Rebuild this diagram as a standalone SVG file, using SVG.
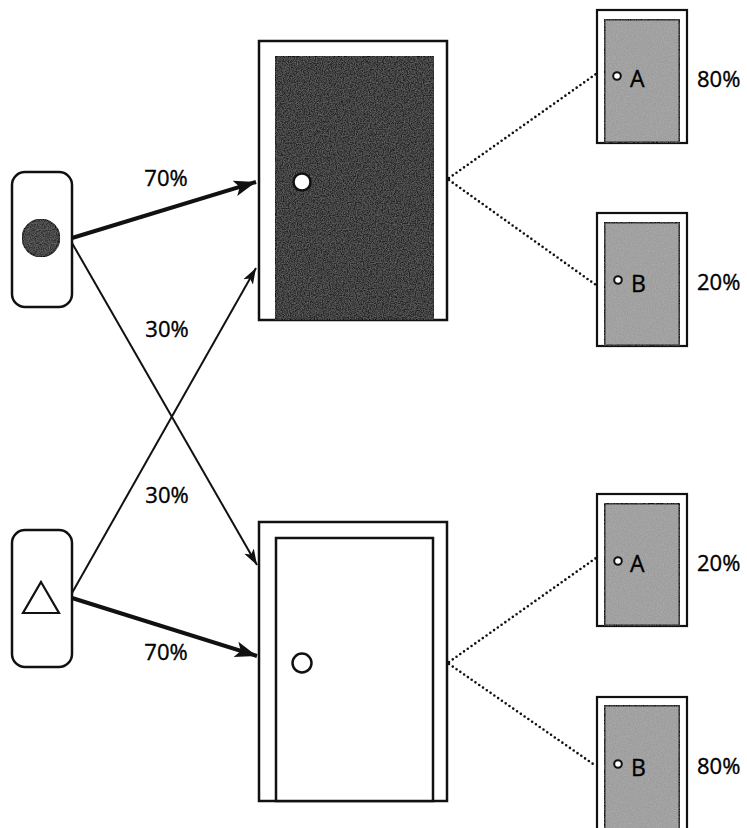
<svg xmlns="http://www.w3.org/2000/svg" width="747" height="828" viewBox="0 0 747 828">
  <style>
    .frame { fill: #ffffff; stroke: #111111; stroke-width: 2.5; }
    .pill { fill: #ffffff; stroke: #111111; stroke-width: 2.5; }
    .dark { fill: #262626; stroke: #111111; stroke-width: 2.5; }
    .light { fill: #ffffff; stroke: #111111; stroke-width: 2.5; }
    .grey { fill: #9c9c9c; stroke: #111111; stroke-width: 3; }
    .sframe { fill: #ffffff; stroke: #111111; stroke-width: 2.2; }
    .knob { stroke: #111111; stroke-width: 2.5; fill: #ffffff; }
    .sknob { stroke: #111111; stroke-width: 2; fill: #ffffff; }
    .thick { stroke: #111111; stroke-width: 4; fill: none; }
    .thin { stroke: #111111; stroke-width: 2; fill: none; }
    .dots { stroke: #111111; stroke-width: 2.6; stroke-linecap: round; stroke-dasharray: 0 4.6; fill: none; }
    text { font-family: "Open Sans", "Noto Sans", sans-serif; fill: #000000; stroke: #000000; stroke-width: 0.35; }
    .pct { font-size: 22px; }
    .lbl { font-size: 23px; }
  </style>
  <defs>
    <filter id="grain" x="0" y="0" width="100%" height="100%">
      <feTurbulence type="fractalNoise" baseFrequency="0.85" numOctaves="2" seed="4" result="n"/>
      <feColorMatrix in="n" type="matrix" values="0 0 0 0 1  0 0 0 0 1  0 0 0 0 1  0 0 0 0.22 -0.07" result="w"/>
      <feComposite in="w" in2="SourceGraphic" operator="in" result="ws"/>
      <feMerge><feMergeNode in="SourceGraphic"/><feMergeNode in="ws"/></feMerge>
    </filter>
    <marker id="headBig" markerUnits="userSpaceOnUse" markerWidth="24" markerHeight="20" viewBox="0 0 24 20" refX="22" refY="10" orient="auto">
      <path d="M0,2 L22,10 L0,18 L5,10 Z" fill="#111111"/>
    </marker>
    <marker id="headSmall" markerUnits="userSpaceOnUse" markerWidth="18" markerHeight="14" viewBox="0 0 18 14" refX="16" refY="7" orient="auto">
      <path d="M0,1.5 L16,7 L0,12.5 L4,7 Z" fill="#111111"/>
    </marker>
  </defs>

  <!-- connectors -->
  <g id="connectors">
    <line class="thick" x1="72" y1="238" x2="256" y2="182" marker-end="url(#headBig)"/>
    <line class="thin" x1="72" y1="243" x2="257" y2="565" marker-end="url(#headSmall)"/>
    <line class="thin" x1="72" y1="593" x2="256" y2="268" marker-end="url(#headSmall)"/>
    <line class="thick" x1="72" y1="598" x2="257" y2="656" marker-end="url(#headBig)"/>
    <line class="dots" x1="449" y1="178" x2="596" y2="74"/>
    <line class="dots" x1="449" y1="180" x2="596" y2="285"/>
    <line class="dots" x1="449" y1="662" x2="596" y2="558"/>
    <line class="dots" x1="449" y1="664" x2="596" y2="766"/>
    <text class="pct" x="166" y="186" text-anchor="middle">70%</text>
    <text class="pct" x="167" y="337" text-anchor="middle">30%</text>
    <text class="pct" x="167" y="503" text-anchor="middle">30%</text>
    <text class="pct" x="166" y="660" text-anchor="middle">70%</text>
  </g>

  <!-- source with filled circle -->
  <g id="source-circle">
    <rect class="pill" x="12" y="172" width="60" height="135" rx="13"/>
    <circle cx="41" cy="238" r="18.5" fill="#333333" stroke="#111111" stroke-width="2" filter="url(#grain)"/>
  </g>

  <!-- source with open triangle -->
  <g id="source-triangle">
    <rect class="pill" x="12" y="530" width="60" height="137" rx="13"/>
    <polygon points="41,582 59,613 23,613" fill="#ffffff" stroke="#111111" stroke-width="2.2"/>
  </g>

  <!-- dark door -->
  <g id="door-dark">
    <rect class="frame" x="259" y="41" width="188" height="279"/>
    <rect class="dark" x="275" y="56" width="159" height="264" filter="url(#grain)"/>
    <circle class="knob" cx="302" cy="182" r="8.5"/>
  </g>

  <!-- light door -->
  <g id="door-light">
    <rect class="frame" x="259" y="522" width="188" height="279"/>
    <rect class="light" x="276" y="538" width="157" height="263"/>
    <circle class="knob" cx="302" cy="663" r="9.5"/>
  </g>

  <!-- small doors -->
  <g id="door-a1">
    <rect class="sframe" x="597" y="10" width="90" height="133"/>
    <rect class="grey" x="604" y="19" width="76" height="124" filter="url(#grain)"/>
    <circle class="sknob" cx="617" cy="76" r="3.8"/>
    <text class="lbl" x="630" y="87">A</text>
    <text class="pct" x="697" y="87">80%</text>
  </g>

  <g id="door-b1">
    <rect class="sframe" x="597" y="213" width="90" height="133"/>
    <rect class="grey" x="604" y="222" width="76" height="124" filter="url(#grain)"/>
    <circle class="sknob" cx="618" cy="280" r="3.8"/>
    <text class="lbl" x="631" y="292">B</text>
    <text class="pct" x="697" y="290">20%</text>
  </g>

  <g id="door-a2">
    <rect class="sframe" x="597" y="494" width="90" height="132"/>
    <rect class="grey" x="604" y="503" width="76" height="123" filter="url(#grain)"/>
    <circle class="sknob" cx="618" cy="561" r="3.8"/>
    <text class="lbl" x="630" y="572">A</text>
    <text class="pct" x="697" y="571">20%</text>
  </g>

  <g id="door-b2">
    <rect class="sframe" x="597" y="697" width="90" height="140"/>
    <rect class="grey" x="604" y="705" width="76" height="132" filter="url(#grain)"/>
    <circle class="sknob" cx="618" cy="764" r="3.8"/>
    <text class="lbl" x="631" y="776">B</text>
    <text class="pct" x="697" y="774">80%</text>
  </g>
</svg>
